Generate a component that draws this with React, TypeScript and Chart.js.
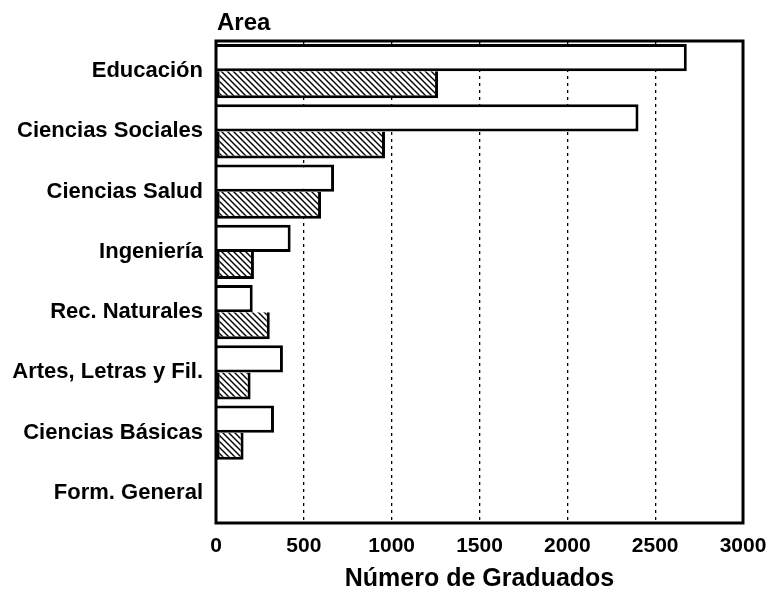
import React, { useEffect, useRef } from "react";
import { Chart, registerables } from "chart.js";

Chart.register(...registerables);

const categories = [
  "Educación",
  "Ciencias Sociales",
  "Ciencias Salud",
  "Ingeniería",
  "Rec. Naturales",
  "Artes, Letras y Fil.",
  "Ciencias Básicas",
  "Form. General",
];
const seriesWhite = [2680, 2405, 672, 425, 209, 381, 330, 3];
const seriesHatched = [1264, 962, 598, 216, 306, 197, 157, 0];
const xTicks = [0, 500, 1000, 1500, 2000, 2500, 3000];
const areaLabel = "Area";
const xTitle = "Número de Graduados";

const FONT = "'Liberation Sans', Arial, Helvetica, sans-serif";

function makeHatch(): CanvasPattern | string {
  const s = 6;
  const c = document.createElement("canvas");
  c.width = s;
  c.height = s;
  const g = c.getContext("2d");
  if (!g) return "#888";
  g.fillStyle = "#fff";
  g.fillRect(0, 0, s, s);
  g.strokeStyle = "#000";
  g.lineWidth = 1.4;
  for (const k of [-1, 0, 1]) {
    g.beginPath();
    g.moveTo(k * s - 1, -1);
    g.lineTo(k * s + s + 1, s + 1);
    g.stroke();
  }
  const p = g.createPattern(c, "repeat");
  return p || "#888";
}

const framePlugin = {
  id: "frame",
  afterDatasetsDraw(chart: any) {
    const { ctx, chartArea } = chart;
    ctx.save();
    ctx.strokeStyle = "#000";
    ctx.lineWidth = 3;
    ctx.strokeRect(
      chartArea.left,
      chartArea.top,
      chartArea.right - chartArea.left,
      chartArea.bottom - chartArea.top
    );
    ctx.fillStyle = "#000";
    ctx.font = `bold 24px ${FONT}`;
    ctx.textAlign = "left";
    ctx.textBaseline = "middle";
    ctx.fillText(areaLabel, chartArea.left + 1, 23);
    ctx.restore();
  },
};

export default function App() {
  const ref = useRef<HTMLCanvasElement | null>(null);

  useEffect(() => {
    if (!ref.current) return;
    const hatch = makeHatch();
    const chart = new Chart(ref.current, {
      type: "bar",
      data: {
        labels: categories,
        datasets: [
          {
            label: "Serie 1",
            data: seriesWhite,
            backgroundColor: "#fff",
            borderColor: "#000",
            borderWidth: 3,
            borderSkipped: "start",
            categoryPercentage: 0.9,
            barPercentage: 1.0,
          },
          {
            label: "Serie 2",
            data: seriesHatched,
            backgroundColor: hatch as any,
            borderColor: "#000",
            borderWidth: 3,
            borderSkipped: "top",
            categoryPercentage: 0.9,
            barPercentage: 1.0,
          },
        ],
      },
      options: {
        indexAxis: "y",
        animation: false,
        responsive: true,
        maintainAspectRatio: false,
        layout: { padding: { left: 0, right: 30, top: 41, bottom: 0 } },
        plugins: {
          legend: { display: false },
          tooltip: { enabled: false },
          title: { display: false },
        },
        scales: {
          x: {
            type: "linear",
            min: 0,
            max: 3000,
            afterBuildTicks: (scale: any) => {
              scale.ticks = xTicks.map((v) => ({ value: v }));
            },
            afterFit: (scale: any) => {
              scale.height = 73;
              scale.paddingLeft = 0;
              scale.paddingRight = 0;
            },
            grid: {
              drawTicks: false,
              lineWidth: 1.3,
              color: (ctx: any) =>
                ctx.tick && ctx.tick.value > 0 && ctx.tick.value < 3000
                  ? "#000"
                  : "rgba(0,0,0,0)",
            },
            border: { display: false, dash: [3, 4] },
            ticks: {
              color: "#000",
              padding: 11,
              font: { family: FONT, size: 21, weight: "bold" },
              callback: (v: any) => String(v),
            },
            title: {
              display: true,
              text: xTitle,
              color: "#000",
              font: { family: FONT, size: 25, weight: "bold" },
              padding: { top: 0, bottom: 2 },
            },
          },
          y: {
            type: "category",
            afterFit: (scale: any) => {
              scale.width = 216;
            },
            grid: { display: false, drawTicks: false },
            border: { display: false },
            ticks: {
              color: "#000",
              padding: 13,
              font: { family: FONT, size: 22, weight: "bold" },
            },
          },
        },
      },
      plugins: [framePlugin],
    });
    return () => chart.destroy();
  }, []);

  return (
    <div
      style={{
        position: "absolute",
        left: 0,
        top: 0,
        width: 773,
        height: 596,
        background: "#fff",
      }}
    >
      <canvas ref={ref} style={{ display: "block" }} />
    </div>
  );
}
